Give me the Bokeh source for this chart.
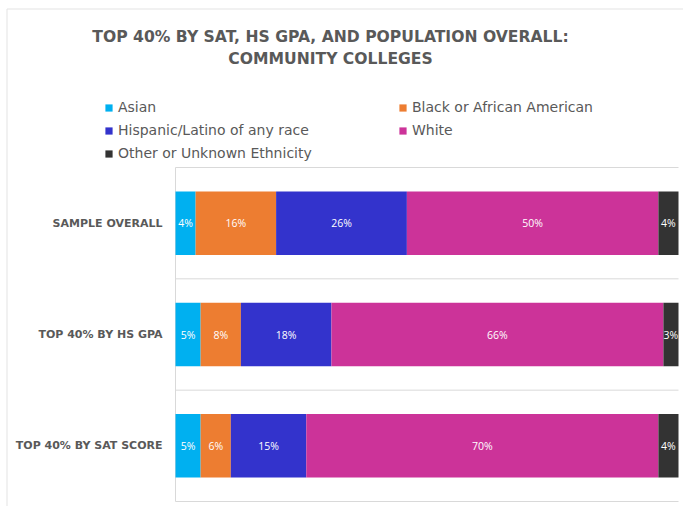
from bokeh.plotting import figure
from bokeh.models import ColumnDataSource, Range1d, Label, Legend, LegendItem
from bokeh.core.properties import value
from bokeh.embed import file_html
from bokeh.resources import INLINE

# ---- data ----
categories = ["SAMPLE OVERALL", "TOP 40% BY HS GPA", "TOP 40% BY SAT SCORE"]
groups = ["Asian", "Black or African American", "Hispanic/Latino of any race",
          "White", "Other or Unknown Ethnicity"]
asian = [4, 5, 5]
black = [16, 8, 6]
hispanic = [26, 18, 15]
white = [50, 66, 70]
other = [4, 3, 4]
colors = ["#00B0F0", "#ED7D31", "#3333CC", "#CC3399", "#333333"]
title_lines = ["TOP 40% BY SAT, HS GPA, AND POPULATION OVERALL:", "COMMUNITY COLLEGES"]

series = [asian, black, hispanic, white, other]
keys = ["asian", "black", "hispanic", "white", "other"]
n = len(categories)
ypos = [n - i - 0.5 for i in range(n)]

# ---- layout (pixels) ----
W, H = 683, 506
BAR_LEFT, BAR_RIGHT = 175, 678
PLOT_TOP, PLOT_BOTTOM = 167, 501
TEXT_GRAY = "#595959"
LINE_GRAY = "#D9D9D9"

ppx = (BAR_RIGHT - BAR_LEFT) / 100.0
ppy = (PLOT_BOTTOM - PLOT_TOP) / float(n)

def px2x(px):
    return (px - BAR_LEFT) / ppx

def py2y(py):
    return (PLOT_BOTTOM - py) / ppy

p = figure(width=W, height=H, output_backend="svg", toolbar_location=None,
           x_range=Range1d(px2x(0), px2x(W)), y_range=Range1d(py2y(H), py2y(0)),
           x_axis_location=None, y_axis_location=None,
           min_border=0, min_border_left=0, min_border_right=0,
           min_border_top=0, min_border_bottom=0)
p.outline_line_color = None
p.xgrid.visible = False
p.ygrid.visible = False

# outer chart border (light)
p.segment(x0=[px2x(6.5), px2x(6.5)], y0=[py2y(8.5), py2y(8.5)],
          x1=[px2x(6.5), px2x(W)], y1=[py2y(H), py2y(8.5)],
          line_color="#E3E3E3", line_width=1)

# separators and category axis line
p.segment(x0=[0] * (n + 1), x1=[100] * (n + 1), y0=list(range(n + 1)), y1=list(range(n + 1)),
          line_color=LINE_GRAY, line_width=1)
p.segment(x0=[0], x1=[0], y0=[0], y1=[n], line_color=LINE_GRAY, line_width=1)

# stacked bars
data = {"y": ypos}
for k, s in zip(keys, series):
    data[k] = s
src = ColumnDataSource(data)
renderers = p.hbar_stack(keys, y="y", height=0.57, color=colors, line_color=None, source=src)

# segment value labels
lx, ly, lt = [], [], []
for i in range(n):
    cum = 0
    for s in series:
        lx.append(cum + s[i] / 2.0)
        ly.append(ypos[i])
        lt.append(f"{s[i]}%")
        cum += s[i]
p.text(x=lx, y=ly, text=lt, text_align="center", text_baseline="middle",
       text_color="white", text_font=value("Open Sans"), text_font_size="10.5px")

# category labels
p.text(x=[px2x(162)] * n, y=ypos, text=categories, text_align="right",
       text_baseline="middle", text_color=TEXT_GRAY, text_font=value("DejaVu Sans"),
       text_font_style="bold", text_font_size="11px")

# title
for t, py in zip(title_lines, [36, 58]):
    p.add_layout(Label(x=px2x(330), y=py2y(py), text=t, text_align="center",
                       text_baseline="middle", text_font="DejaVu Sans",
                       text_font_style="bold", text_font_size="15.6px",
                       text_color=TEXT_GRAY))

# legends
def make_legend(idx, x_px, bottom_py):
    items = [LegendItem(label=groups[i], renderers=[renderers[i]]) for i in idx]
    lg = Legend(items=items, location=(x_px, H - bottom_py),
                orientation="vertical", glyph_width=9, glyph_height=9,
                label_height=20, spacing=3, label_standoff=5, padding=0, margin=0,
                border_line_color=None, background_fill_alpha=0,
                label_text_font="DejaVu Sans", label_text_font_size="14px",
                label_text_color=TEXT_GRAY)
    p.add_layout(lg)

make_legend([0, 2, 4], 104, 163)
make_legend([1, 3], 398, 140)

open("out.html", "w").write(file_html(p, INLINE))
